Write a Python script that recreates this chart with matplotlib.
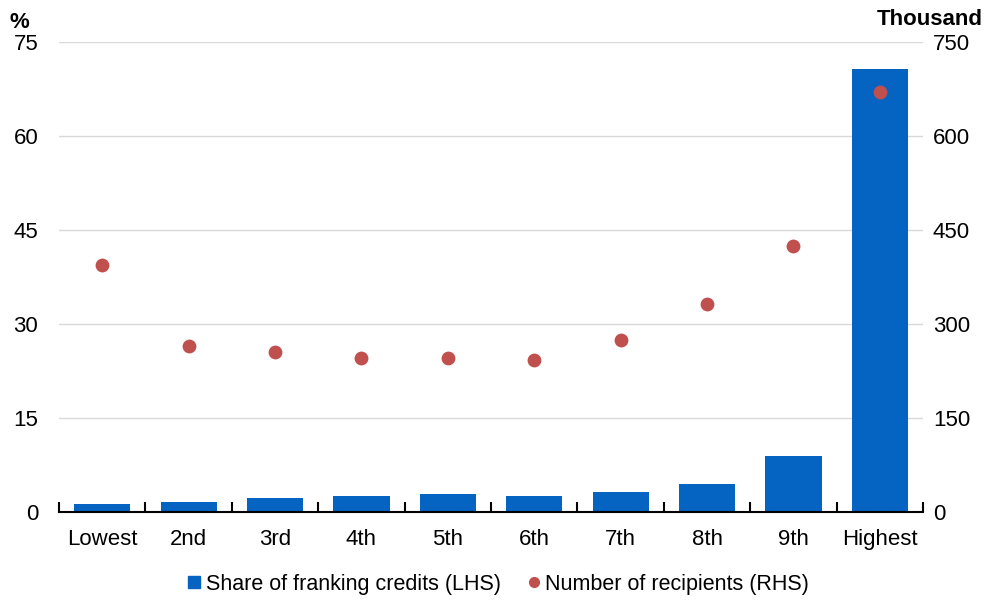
import matplotlib.pyplot as plt
from matplotlib.lines import Line2D

plt.rcParams['font.family'] = ['Liberation Sans', 'DejaVu Sans']

categories = ['Lowest', '2nd', '3rd', '4th', '5th', '6th', '7th', '8th', '9th', 'Highest']
share_credits = [1.3, 1.65, 2.25, 2.6, 2.9, 2.55, 3.2, 4.5, 8.9, 70.7]   # % (LHS)
recipients = [395, 265, 256, 246, 246, 243, 275, 332, 424, 670]         # thousand (RHS)
left_ticks = [0, 15, 30, 45, 60, 75]
right_ticks = [0, 150, 300, 450, 600, 750]

bar_col = '#0563C1'
dot_col = '#C0504D'

fig = plt.figure(figsize=(9.87, 6.01), dpi=100)
ax = fig.add_axes([0.0598, 0.148, 0.8754, 0.782])
x = list(range(len(categories)))

ax.bar(x, share_credits, width=0.65, color=bar_col, zorder=2)
ax.set_xlim(-0.5, len(categories) - 0.5)
ax.set_ylim(0, 75)
ax.set_yticks(left_ticks)
ax.grid(axis='y', color='#d9d9d9', linewidth=1, zorder=0)
ax.set_axisbelow(True)

# twin axis for recipients
ax2 = ax.twinx()
ax2.scatter(x, recipients, s=80, color=dot_col, zorder=3)
ax2.set_ylim(0, 750)
ax2.set_yticks(right_ticks)

for a in (ax, ax2):
    for s in ['top', 'left', 'right']:
        a.spines[s].set_visible(False)
    a.tick_params(axis='y', length=0, labelsize=16)
ax2.spines['bottom'].set_visible(False)
ax.spines['bottom'].set_linewidth(1.5)
ax.tick_params(axis='y', pad=15)
ax2.tick_params(axis='y', pad=7)

# category labels with boundary tick marks
ax.set_xticks(x)
ax.set_xticklabels(categories, fontsize=16)
ax.tick_params(axis='x', length=0, pad=12)
ax.set_xticks([i - 0.5 for i in range(len(categories) + 1)], minor=True)
ax.tick_params(axis='x', which='minor', direction='in', length=7, width=1.5)

fig.text(0.010, 0.962, '%', fontsize=16, fontweight='bold', ha='left', va='center')
fig.text(0.996, 0.968, 'Thousand', fontsize=16, fontweight='bold', ha='right', va='center')

handles = [
    Line2D([], [], marker='s', linestyle='none', color=bar_col, markersize=9),
    Line2D([], [], marker='o', linestyle='none', color=dot_col, markersize=7),
]
fig.legend(handles, ['Share of franking credits (LHS)', 'Number of recipients (RHS)'],
           loc='center', bbox_to_anchor=(0.503, 0.028), ncol=2, frameon=False,
           fontsize=15.5, handletextpad=0.05, columnspacing=1.0, handlelength=1.0)

fig.savefig('out.png', dpi=100)
